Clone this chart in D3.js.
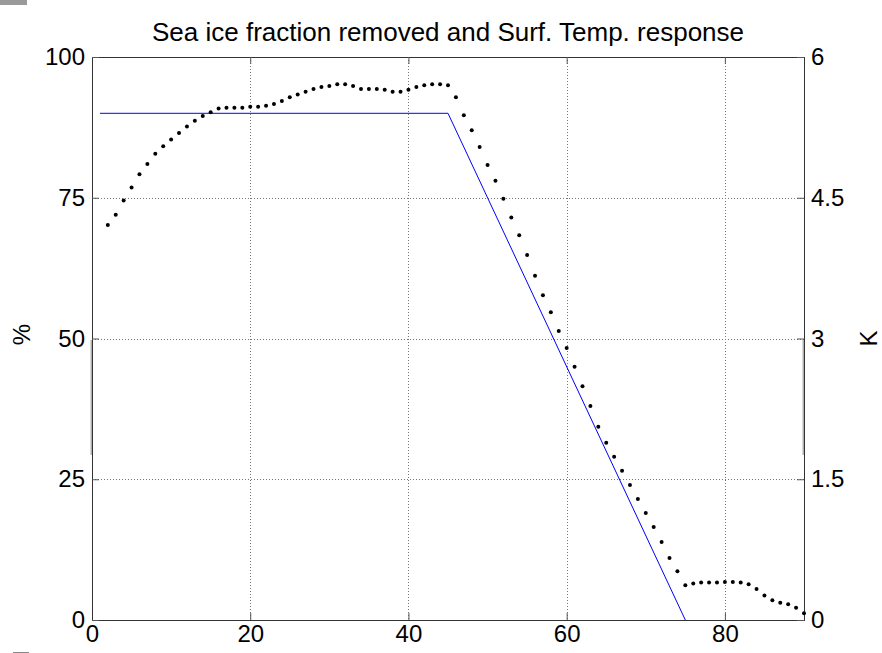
<!DOCTYPE html>
<html>
<head>
<meta charset="utf-8">
<script src="https://cdn.jsdelivr.net/npm/d3@7"></script>
<style>
  html, body { margin: 0; padding: 0; background: #fff; }
  svg { display: block; font-family: "Liberation Sans", Arial, Helvetica, sans-serif; }
</style>
</head>
<body>
<svg id="chart" width="882" height="653"></svg>
<script>
// ---- data ----
const titleText = "Sea ice fraction removed and Surf. Temp. response";
const leftLabel = "%";
const rightLabel = "K";
const xTicks = [0, 20, 40, 60, 80];
const leftTicks = [0, 25, 50, 75, 100];
const rightTicks = [0, 1.5, 3, 4.5, 6];
const rightTickLabels = ["0", "1.5", "3", "4.5", "6"];

// sea ice fraction removed (%) — blue line breakpoints
const iceLat = [1, 45, 75];
const icePct = [90, 90, 0];

// surface temperature response (K) — dotted series
const tempLat = [2,3,4,5,6,7,8,9,10,11,12,13,14,15,16,17,18,19,20,21,22,23,24,25,26,27,28,29,30,
  31,32,33,34,35,36,37,38,39,40,41,42,43,44,45,46,47,48,49,50,51,52,53,54,55,56,57,58,59,60,
  61,62,63,64,65,66,67,68,69,70,71,72,73,74,75,76,77,78,79,80,81,82,83,84,85,86,87,88,89,90];
const tempK = [4.21,4.32,4.47,4.61,4.75,4.86,4.97,5.05,5.12,5.19,5.26,5.32,5.37,5.41,5.45,5.46,5.46,5.46,5.47,5.47,5.48,5.50,5.53,5.57,5.60,5.63,5.66,5.68,5.69,
  5.71,5.71,5.69,5.66,5.66,5.66,5.65,5.63,5.63,5.65,5.68,5.70,5.71,5.71,5.70,5.57,5.38,5.22,5.04,4.85,4.68,4.49,4.29,4.10,3.89,3.67,3.46,3.28,3.08,2.90,
  2.70,2.49,2.28,2.06,1.89,1.74,1.59,1.44,1.29,1.14,0.99,0.83,0.66,0.52,0.37,0.39,0.40,0.40,0.40,0.405,0.405,0.40,0.38,0.33,0.26,0.21,0.185,0.167,0.131,0.071];

// ---- layout ----
const svg = d3.select("#chart");
const L = 92, R = 804, T = 57, B = 620;

const x = d3.scaleLinear().domain([0, 90]).range([L, R]);
const yL = d3.scaleLinear().domain([0, 100]).range([B, T]);
const yR = d3.scaleLinear().domain([0, 6]).range([B, T]);

// grid
const grid = svg.append("g").attr("stroke", "#777").attr("stroke-width", 1).attr("stroke-dasharray", "1,2");
xTicks.filter(d => d > 0).forEach(d => {
  grid.append("line").attr("x1", Math.round(x(d)) + 0.5).attr("x2", Math.round(x(d)) + 0.5).attr("y1", T).attr("y2", B);
});
leftTicks.filter(d => d > 0 && d < 100).forEach(d => {
  grid.append("line").attr("y1", Math.round(yL(d)) + 0.5).attr("y2", Math.round(yL(d)) + 0.5).attr("x1", L).attr("x2", R);
});

// artifacts (light gray marks seen in the reference)
svg.append("line").attr("x1", L - 0.5).attr("x2", L - 0.5).attr("y1", 340).attr("y2", 455).attr("stroke", "#b0b0b0").attr("stroke-width", 2);
svg.append("line").attr("x1", R - 0.5).attr("x2", R - 0.5).attr("y1", 340).attr("y2", 455).attr("stroke", "#b0b0b0").attr("stroke-width", 2);
svg.append("rect").attr("x", 0).attr("y", 0).attr("width", 27).attr("height", 5).attr("fill", "#9a9a9a");
svg.append("line").attr("x1", 13).attr("x2", 29).attr("y1", 652.5).attr("y2", 652.5).attr("stroke", "#888");

// axes
const fs = 24;
const axisColor = "#333";
const gB = svg.append("g").attr("transform", `translate(0,${B})`)
  .call(d3.axisBottom(x).tickValues(xTicks).tickSize(-7).tickPadding(5).tickFormat(d3.format("d")));
const gT = svg.append("g").attr("transform", `translate(0,${T})`)
  .call(d3.axisTop(x).tickValues(xTicks).tickSize(-7).tickFormat(""));
const gL = svg.append("g").attr("transform", `translate(${L},0)`)
  .call(d3.axisLeft(yL).tickValues(leftTicks).tickSize(-7).tickPadding(7).tickFormat(d3.format("d")));
const gR = svg.append("g").attr("transform", `translate(${R},0)`)
  .call(d3.axisRight(yR).tickValues(rightTicks).tickSize(-7).tickPadding(7).tickFormat((d, i) => rightTickLabels[i]));
[gB, gT, gL, gR].forEach(g => {
  g.select(".domain").attr("stroke", axisColor).attr("stroke-width", 1);
  g.selectAll(".tick line").attr("stroke", "#555");
  g.selectAll("text").attr("font-size", fs).attr("fill", "#000")
    .attr("font-family", "'Liberation Sans', Arial, Helvetica, sans-serif");
});

// blue ice-fraction line
svg.append("path")
  .datum(iceLat.map((d, i) => [d, icePct[i]]))
  .attr("fill", "none").attr("stroke", "#0000ff").attr("stroke-width", 1)
  .attr("d", d3.line().x(d => x(d[0])).y(d => yL(d[1])));

// dotted temperature response
svg.append("g").selectAll("circle")
  .data(tempLat.map((d, i) => [d, tempK[i]]))
  .join("circle")
  .attr("cx", d => x(d[0])).attr("cy", d => yR(d[1])).attr("r", 2).attr("fill", "#000");

// title & axis labels
svg.append("text").attr("x", 448).attr("y", 41).attr("text-anchor", "middle")
  .attr("font-size", 26).attr("fill", "#000").text(titleText);
svg.append("text").attr("transform", `translate(30,${(T + B) / 2 - 4}) rotate(-90)`)
  .attr("text-anchor", "middle").attr("font-size", fs).attr("fill", "#000").text(leftLabel);
svg.append("text").attr("transform", `translate(877,${(T + B) / 2}) rotate(-90)`)
  .attr("text-anchor", "middle").attr("font-size", fs).attr("fill", "#000").text(rightLabel);
</script>
</body>
</html>
